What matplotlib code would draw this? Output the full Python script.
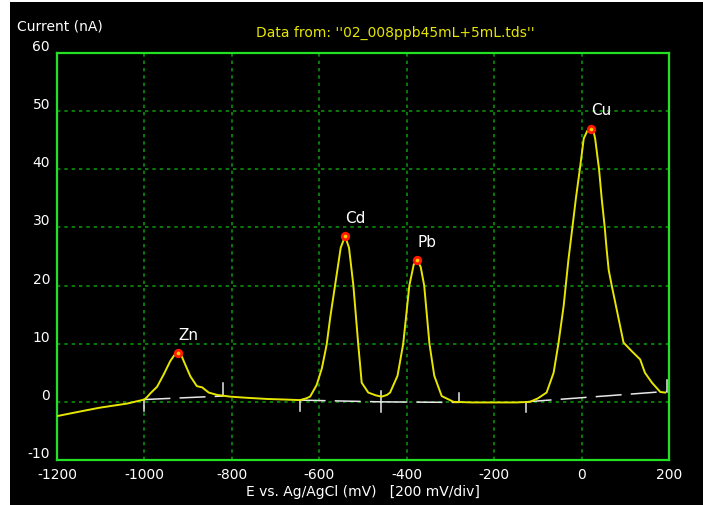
import matplotlib
matplotlib.use("Agg")
import matplotlib.pyplot as plt
from matplotlib.patches import Rectangle

# ---- data ----
potential_mv = [-1200, -1150, -1102, -1040, -1000, -993, -986, -971, -956, -941, -932, -923, -915,
                -910, -895, -880, -868, -853, -834, -804, -766, -720, -680, -644, -630, -621,
                -606, -594, -583, -575, -564, -551, -541, -532, -522, -511, -503, -488, -470,
                -457, -445, -438, -421, -408, -394, -384, -376, -368, -360, -348, -337, -320,
                -293, -250, -200, -150, -118, -100, -80, -64, -53, -41, -30, -21, -13, -4, 5,
                13, 21, 28, 31, 40, 46, 53, 57, 62, 69, 85, 96, 115, 134, 145, 161, 180, 191]
current_na = [-2.45, -1.7, -1.0, -0.3, 0.4, 0.9, 1.5, 2.6, 4.7, 7.0, 8.0, 8.4, 7.9,
              7.0, 4.4, 2.7, 2.5, 1.6, 1.2, 0.9, 0.7, 0.5, 0.4, 0.3, 0.6, 0.9,
              2.9, 5.8, 9.9, 14.5, 20.0, 26.5, 28.5, 26.5, 20.0, 10.0, 3.3, 1.6, 1.1,
              0.9, 1.2, 1.6, 4.5, 10.0, 20.0, 23.6, 24.4, 23.2, 20.0, 10.0, 4.5, 1.0,
              0.0, -0.1, -0.1, -0.1, 0.0, 0.6, 1.6, 5.0, 10.0, 16.5, 24.5, 30.0, 35.0, 40.0, 45.3,
              46.6, 47.0, 46.3, 45.3, 40.0, 35.0, 30.0, 26.5, 22.7, 20.0, 14.2, 10.2, 8.7, 7.3, 5.0, 3.3, 1.7, 1.6]

peak_names = ["Zn", "Cd", "Pb", "Cu"]
peak_mv = [-923, -541, -376, 21]
peak_na = [8.4, 28.5, 24.4, 47.0]

# integration baselines (start x, start y, end x, end y)
base_x0 = [-1000, -645, -458, -128]
base_y0 = [0.4, 0.3, 0.0, 0.0]
base_x1 = [-821, -458, -280, 195]
base_y1 = [1.0, 0.0, -0.1, 1.8]
# boundary ticks (x, y bottom, y top)
bound_x = [-1000, -821, -645, -458, -280, -128, 195]
bound_lo = [-1.6, 1.0, -1.5, -1.8, -0.1, -1.8, 1.7]
bound_hi = [0.4, 3.2, 0.3, 1.9, 1.5, 0.0, 3.8]

x_ticks = [-1200, -1000, -800, -600, -400, -200, 0, 200]
y_ticks = [-10, 0, 10, 20, 30, 40, 50, 60]

W, H = 703, 506
fig = plt.figure(figsize=(W / 100, H / 100), dpi=100, facecolor="black")
fig.patches.append(Rectangle((0, 0), 10 / W, 1, transform=fig.transFigure,
                             facecolor="white", edgecolor="none", zorder=-5))
fig.patches.append(Rectangle((0, 1 - 3 / H), 1, 3 / H, transform=fig.transFigure,
                             facecolor="white", edgecolor="none", zorder=-5))

ax = fig.add_axes([57 / W, 1 - 461 / H, (669 - 57) / W, (461 - 54) / H])
ax.set_facecolor("black")
ax.set_xlim(-1200, 200)
ax.set_ylim(-10, 60)

font = "DejaVu Sans"
fs = 10

ax.set_xticks(x_ticks)
ax.set_xticklabels([str(v) for v in x_ticks], color="white", fontsize=fs, family=font)
ax.set_yticks(y_ticks)
ax.set_yticklabels([str(v) for v in y_ticks], color="white", fontsize=fs, family=font)
ax.tick_params(length=0, pad=5)
for lab in ax.get_yticklabels():
    lab.set_verticalalignment("bottom")

ax.grid(True, color="#0c9a0c", linewidth=1.1, linestyle=(0, (2.2, 2.6)))
ax.set_axisbelow(True)
for sp in ax.spines.values():
    sp.set_color("#22e022")
    sp.set_linewidth(1.6)

# baselines and boundaries
for x0, y0, x1, y1 in zip(base_x0, base_y0, base_x1, base_y1):
    ax.plot([x0, x1], [y0, y1], color="#e8e8e8", lw=1.1, linestyle=(0, (17, 6)), zorder=3)
for bx, lo, hi in zip(bound_x, bound_lo, bound_hi):
    ax.plot([bx, bx], [lo, hi], color="#e8e8e8", lw=1.1, zorder=3)

ax.plot(potential_mv, current_na, color="#e6e600", lw=1.4, zorder=4)

ax.scatter(peak_mv, peak_na, s=45, color="#ff1a00", zorder=5, linewidths=0)
ax.scatter(peak_mv, peak_na, s=7, color="#ffd000", zorder=6, linewidths=0)
for name, px, py in zip(peak_names, peak_mv, peak_na):
    ax.annotate(name, (px, py), xytext=(0, 8), textcoords="offset points",
                ha="left", va="bottom", color="white", fontsize=fs + 1, family=font)

fig.text(17 / W, 1 - 27 / H, "Current (nA)", color="white", fontsize=fs, family=font,
         ha="left", va="center")
fig.text(395 / W, 1 - 33 / H, "Data from: ''02_008ppb45mL+5mL.tds''", color="#e6e600",
         fontsize=fs, family=font, ha="center", va="center")
ax.set_xlabel("E vs. Ag/AgCl (mV)   [200 mV/div]", color="white", fontsize=fs, family=font,
              labelpad=2)

fig.savefig("out.png", dpi=100, facecolor=fig.get_facecolor())
